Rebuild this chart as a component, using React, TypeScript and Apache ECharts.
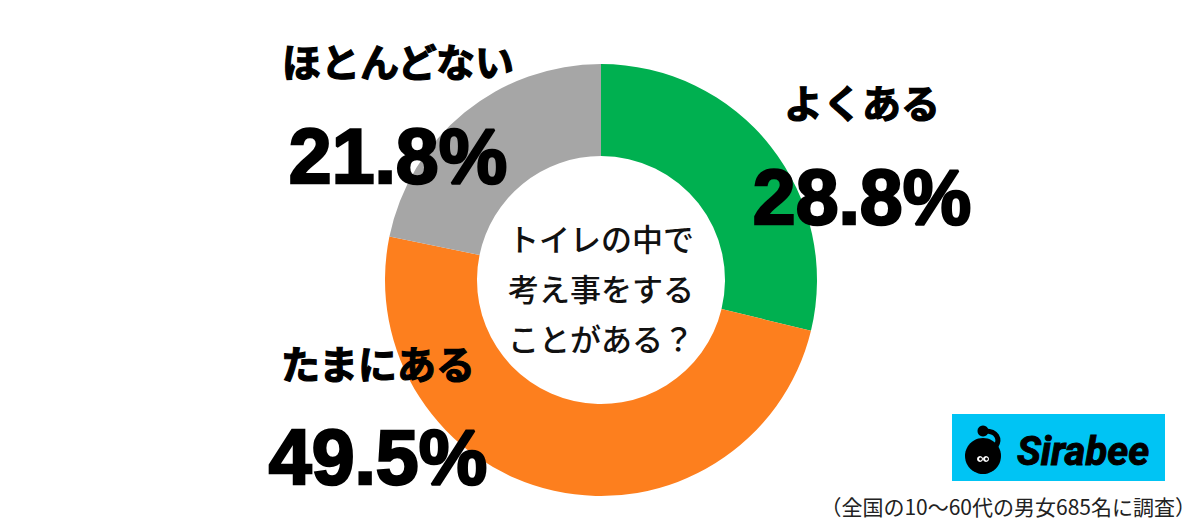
import React, { useEffect, useRef } from "react";
import * as echarts from "echarts";

const categories = ["よくある", "たまにある", "ほとんどない"];
const values = [28.8, 49.5, 21.8];
const colors = ["#00b050", "#fd7f1e", "#a6a6a6"];
// [centerX, nameY, valueY]
const labelLayout = [
  [862, 101, 197],
  [378, 362, 457],
  [398, 60, 156],
];
const centerLines = ["トイレの中で", "考え事をする", "ことがある？"];
const footnote = "（全国の10〜60代の男女685名に調査）";
const brand = "Sirabee";

export default function App() {
  const ref = useRef<HTMLDivElement>(null);
  useEffect(() => {
    if (!ref.current) return;
    const chart = echarts.init(ref.current, undefined, { renderer: "svg" });
    const jp = '"Noto Sans CJK JP", sans-serif';
    const labels: any[] = [];
    categories.forEach((c, i) => {
      const [cx, ny, vy] = labelLayout[i];
      labels.push({
        type: "text",
        z: 100,
        x: cx,
        y: ny,
        style: {
          text: c,
          fontSize: 39,
          fontWeight: "bold",
          fontFamily: jp,
          fill: "#000",
          stroke: "#000",
          lineWidth: 1.2,
          align: "center",
          verticalAlign: "middle",
        },
      });
      labels.push({
        type: "text",
        z: 100,
        x: cx,
        y: vy,
        style: {
          text: values[i].toFixed(1) + "%",
          fontSize: 77,
          fontWeight: "bold",
          fontFamily: '"Liberation Sans", Arial, sans-serif',
          fill: "#000",
          stroke: "#000",
          lineWidth: 2.5,
          align: "center",
          verticalAlign: "middle",
        },
      });
    });
    centerLines.forEach((t, i) => {
      labels.push({
        type: "text",
        z: 100,
        x: 601,
        y: 237 + i * 50,
        style: {
          text: t,
          fontSize: 31,
          fontWeight: 500,
          fontFamily: jp,
          fill: "#111",
          align: "center",
          verticalAlign: "middle",
        },
      });
    });
    const logo: any[] = [
      { type: "rect", shape: { x: 952, y: 414, width: 213, height: 67 }, style: { fill: "#00c4f4" } },
      { type: "circle", shape: { cx: 983, cy: 456, r: 18 }, style: { fill: "#000" } },
      {
        type: "bezierCurve",
        shape: { x1: 983, y1: 431, cpx1: 998, cpy1: 430, cpx2: 1000, cpy2: 440, x2: 996, y2: 446 },
        style: { stroke: "#000", lineWidth: 5, fill: "none" },
      },
      { type: "circle", shape: { cx: 983, cy: 431, r: 5.5 }, style: { fill: "#000" } },
      { type: "circle", shape: { cx: 980, cy: 459, r: 3 }, style: { fill: "#fff" } },
      { type: "circle", shape: { cx: 986, cy: 459, r: 3 }, style: { fill: "#fff" } },
      { type: "circle", shape: { cx: 980.5, cy: 459, r: 1.4 }, style: { fill: "#000" } },
      { type: "circle", shape: { cx: 986.5, cy: 459, r: 1.4 }, style: { fill: "#000" } },
      {
        type: "text",
        x: 1083,
        y: 451,
        style: {
          text: brand,
          fontSize: 40,
          fontWeight: "bold",
          fontStyle: "italic",
          fontFamily: "Roboto, sans-serif",
          fill: "#000",
          stroke: "#000",
          lineWidth: 1,
          align: "center",
          verticalAlign: "middle",
        },
      },
    ].map((e) => ({ ...e, z: 100 }));
    const foot = {
      type: "text",
      z: 100,
      x: 1196,
      y: 506,
      style: {
        text: footnote,
        fontSize: 21,
        fontFamily: jp,
        fill: "#222",
        align: "right",
        verticalAlign: "middle",
      },
    };
    chart.setOption({
      animation: false,
      backgroundColor: "#fff",
      series: [
        {
          type: "pie",
          z: 1,
          center: [601, 280],
          radius: [124, 216],
          startAngle: 90,
          clockwise: true,
          silent: true,
          label: { show: false },
          labelLine: { show: false },
          itemStyle: { borderWidth: 0 },
          data: categories.map((c, i) => ({ name: c, value: values[i], itemStyle: { color: colors[i] } })),
        },
      ],
      graphic: [...labels, ...logo, foot],
    });
    return () => chart.dispose();
  }, []);
  return <div ref={ref} style={{ position: "fixed", left: 0, top: 0, width: 1200, height: 522 }} />;
}
